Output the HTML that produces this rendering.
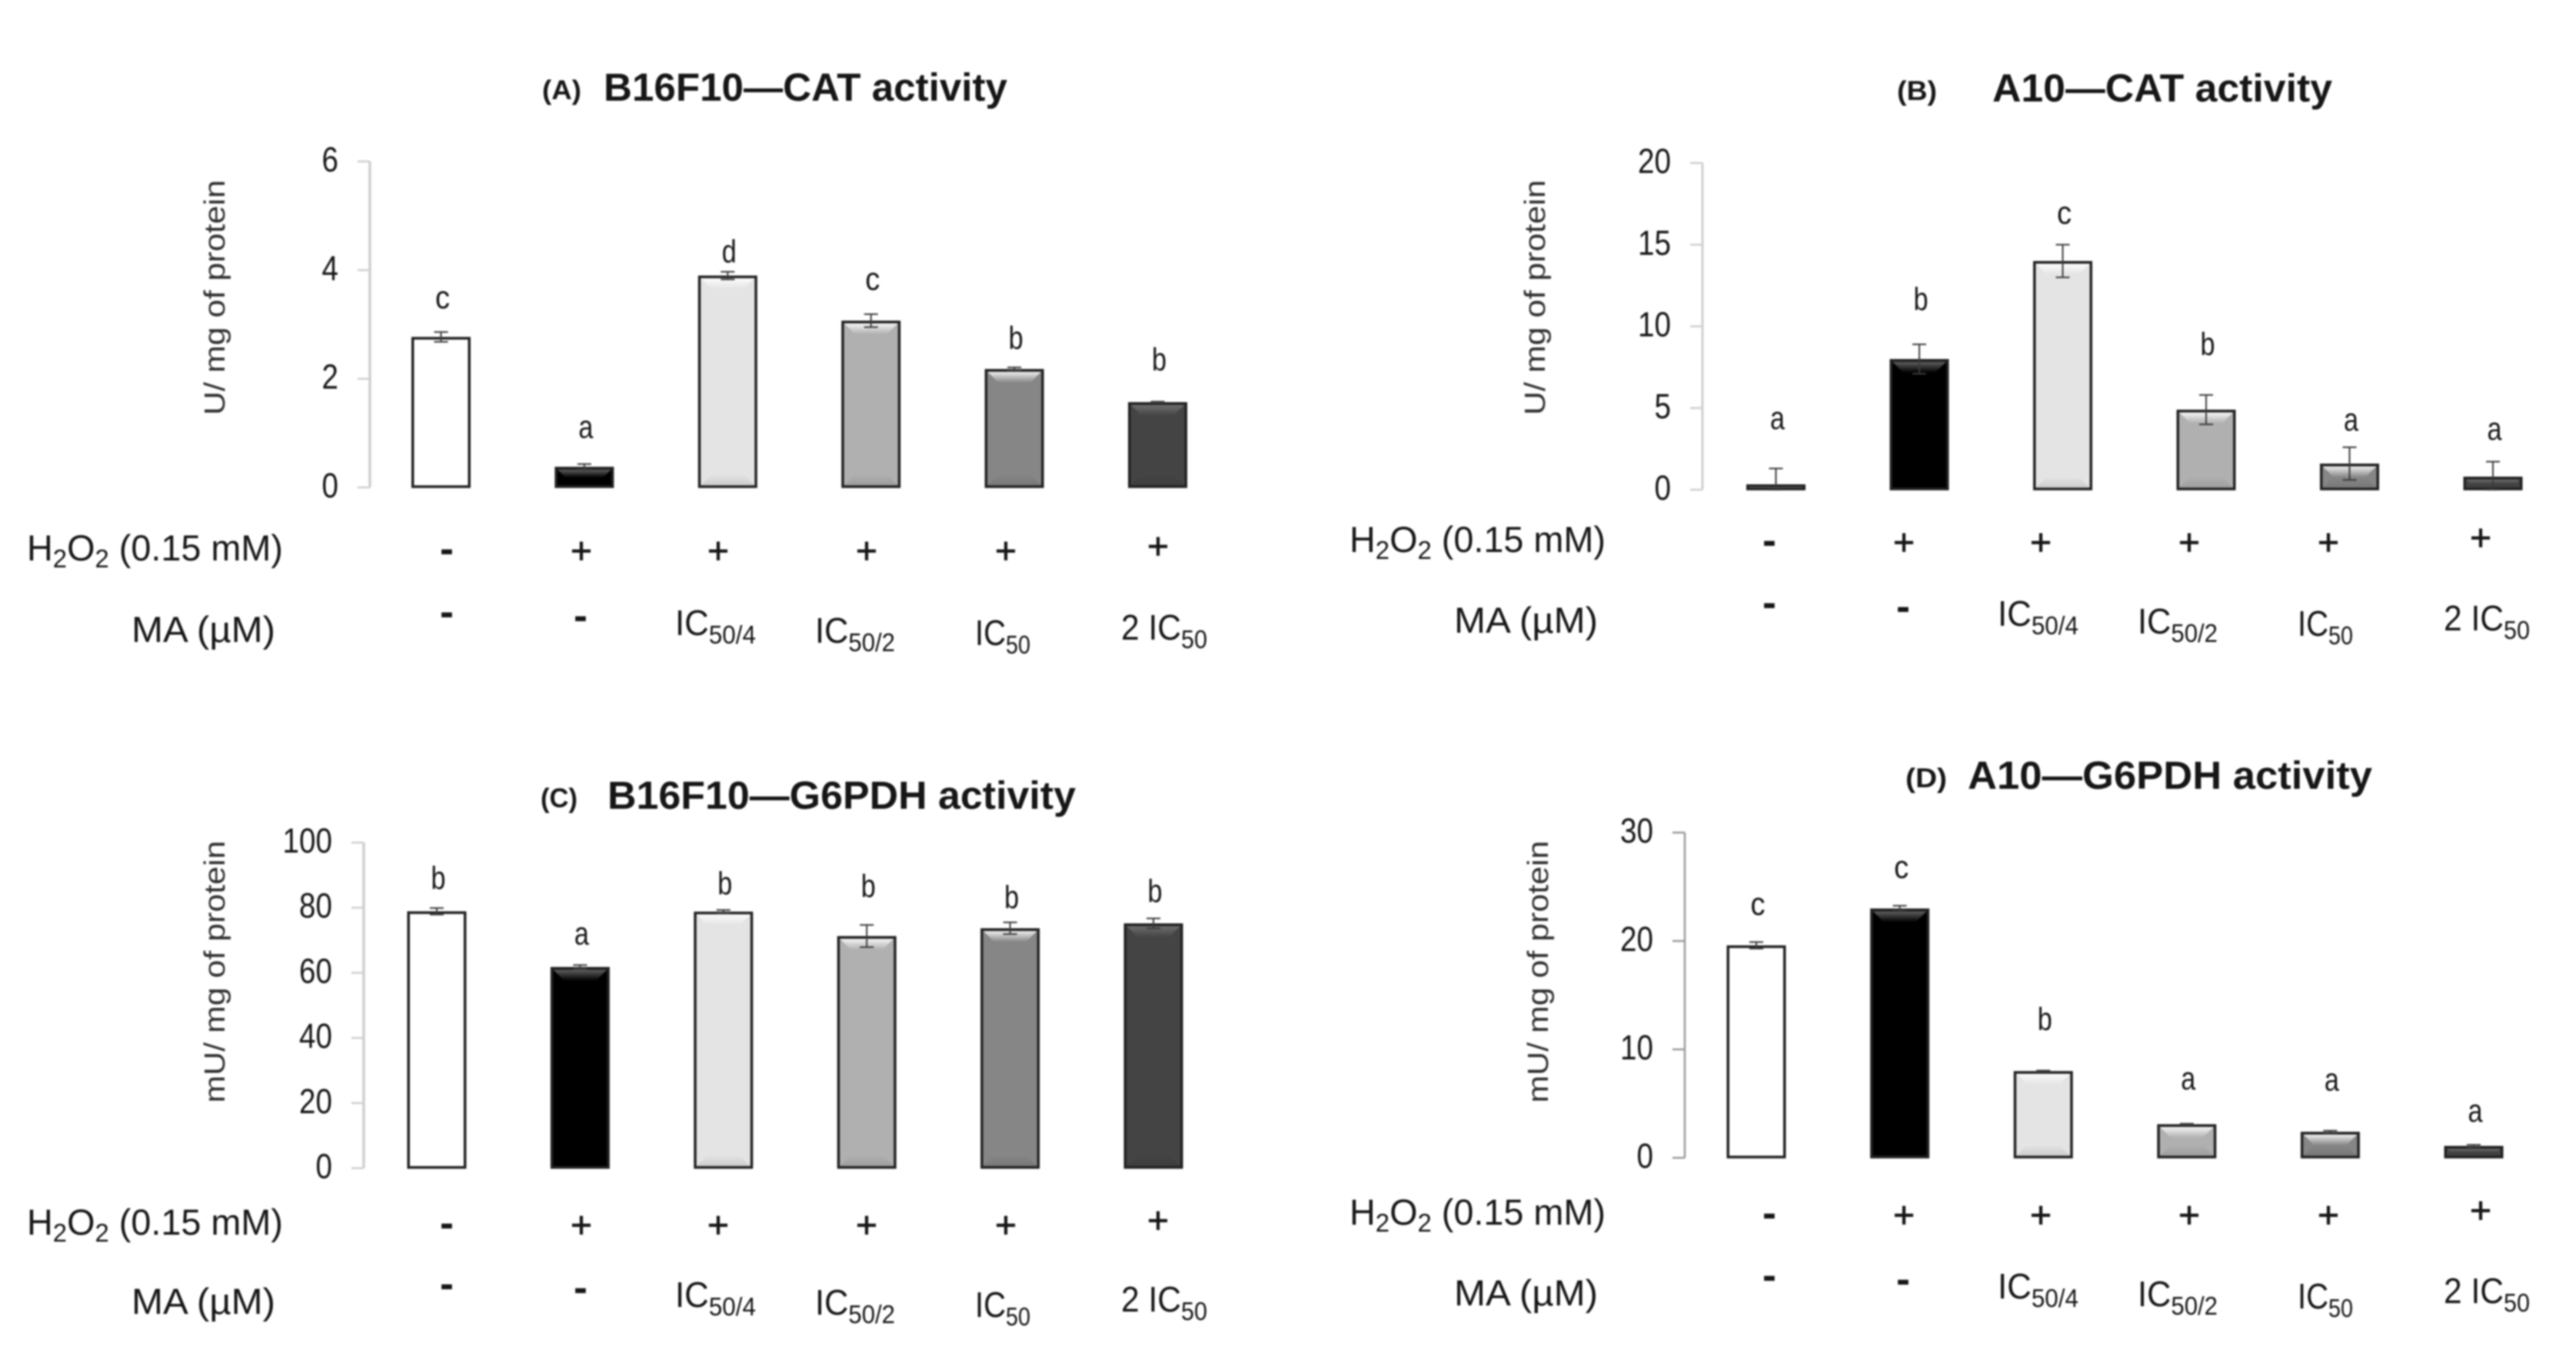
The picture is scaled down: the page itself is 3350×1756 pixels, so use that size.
<!DOCTYPE html>
<html lang="en">
<head>
<meta charset="utf-8">
<title>Enzyme activity bar charts</title>
<style>
html,body{margin:0;padding:0;background:#fff;width:3350px;height:1756px;overflow:hidden}
#figure{display:block;filter:blur(1.1px)}
text{font-family:"Liberation Sans",sans-serif;fill:#161616}
</style>
</head>
<body>
<svg id="figure" xmlns="http://www.w3.org/2000/svg" width="3350" height="1756" viewBox="0 0 3350 1756">
  <defs>
    <linearGradient id="bevel-top-light" x1="0" y1="0" x2="0" y2="1"><stop offset="0" stop-color="#fff" stop-opacity=".85"/><stop offset="1" stop-color="#fff" stop-opacity="0"/></linearGradient>
    <linearGradient id="bevel-top-dark" x1="0" y1="0" x2="0" y2="1"><stop offset="0" stop-color="#777" stop-opacity=".8"/><stop offset="1" stop-color="#777" stop-opacity="0"/></linearGradient>
    <linearGradient id="bevel-bottom" x1="0" y1="1" x2="0" y2="0"><stop offset="0" stop-color="#000" stop-opacity=".1"/><stop offset="1" stop-color="#000" stop-opacity="0"/></linearGradient>
  </defs>
</svg>
<script>
// Shared categories
const barFills = ['#ffffff', '#000000', '#e4e4e4', '#b0b0b0', '#868686', '#444444'];
const h2o2Signs = ['-', '+', '+', '+', '+', '+'];

// Panel A: B16F10 CAT
const valuesA = [2.77, 0.38, 3.90, 3.07, 2.18, 1.57];
const errorsA = [0.09, 0.05, 0.07, 0.12, 0.03, 0.01];
const lettersA = ['c', 'a', 'd', 'c', 'b', 'b'];
const letterGapsA = [0.68, 0.69, 0.45, 0.72, 0.58, 0.79];
const ticksA = [0, 2, 4, 6];

// Panel B: A10 CAT
const valuesB = [0.33, 8.0, 14.0, 4.9, 1.6, 0.8];
const errorsB = [0.97, 0.9, 1.0, 0.9, 1.0, 0.92];
const lettersB = ['a', 'b', 'c', 'b', 'a', 'a'];
const letterGapsB = [3.9, 3.7, 2.8, 4.05, 2.53, 2.77];
const ticksB = [0, 5, 10, 15, 20];

// Panel C: B16F10 G6PDH
const valuesC = [78.9, 61.8, 78.8, 71.3, 73.7, 75.2];
const errorsC = [1.0, 0.6, 0.5, 3.4, 1.8, 1.5];
const lettersC = ['b', 'a', 'b', 'b', 'b', 'b'];
const letterGapsC = [10.3, 9.5, 8.8, 15.5, 9.7, 10];
const ticksC = [0, 20, 40, 60, 80, 100];

// Panel D: A10 G6PDH
const valuesD = [19.6, 23.0, 8.0, 3.1, 2.4, 1.1];
const errorsD = [0.3, 0.25, 0.05, 0.05, 0.1, 0.1];
const lettersD = ['c', 'c', 'b', 'a', 'a', 'a'];
const letterGapsD = [3.6, 3.6, 4.85, 4.0, 4.6, 3.0];
const ticksD = [0, 10, 20, 30];

const NS = 'http://www.w3.org/2000/svg';
const figure = document.getElementById('figure');

function make(tag, parent, attrs) {
  const el = document.createElementNS(NS, tag);
  for (const k in attrs) el.setAttribute(k, attrs[k]);
  parent.appendChild(el);
  return el;
}

// parts: array of strings; a part wrapped as {sub:'2'} is drawn as a subscript
function rich(el, parts, subSize, drop) {
  parts.forEach(function (p) {
    const t = document.createElementNS(NS, 'tspan');
    if (typeof p === 'string') {
      t.textContent = p;
    } else {
      t.textContent = p.sub;
      t.setAttribute('font-size', subSize);
      t.setAttribute('dy', drop);
    }
    el.appendChild(t);
    if (typeof p !== 'string') {
      const back = document.createElementNS(NS, 'tspan');
      back.setAttribute('dy', -drop);
      back.textContent = '\u200b';
      el.appendChild(back);
    }
  });
}

function drawPanel(p) {
  const g = make('g', figure, {});
  
  
  const yOf = function (v) { return p.y0 - v / p.max * (p.y0 - p.yTop); };
  const barW = 73.5;

  // titles
  const tag = make('text', g, { x: p.tagX, y: p.titleY - 2, 'font-size': 35, 'font-weight': 'bold', textLength: p.tagW, lengthAdjust: 'spacingAndGlyphs' });
  
  
  tag.textContent = p.tag;
  const title = make('text', g, { x: p.titleX, y: p.titleY, 'font-size': 51, 'font-weight': 'bold', textLength: p.titleW, lengthAdjust: 'spacingAndGlyphs' });
  
  
  title.textContent = p.title;

  // y axis title
  const yt = make('text', g, { transform: 'translate(' + p.yTitleX + ' ' + p.yTitleY + ') rotate(-90)', 'font-size': 38, 'text-anchor': 'middle', textLength: p.yTitleW, lengthAdjust: 'spacingAndGlyphs', style: 'fill:#303030' });
  
  
  yt.textContent = p.yTitle;

  // axis
  const axis = make('line', g, { x1: p.axisX, x2: p.axisX, y1: p.yTop, y2: p.y0, stroke: p.axisColor, 'stroke-width': p.axisWidth });
  
  
  p.ticks.forEach(function (t) {
    const tk = make('line', g, { x1: p.axisX - 16, x2: p.axisX, y1: yOf(t), y2: yOf(t), stroke: p.axisColor, 'stroke-width': 2.5 });
    
    
    const lb = make('text', g, { x: p.axisX - 41, y: yOf(t) + 13, 'font-size': 45, 'text-anchor': 'end', textLength: String(t).length * 21.5, lengthAdjust: 'spacingAndGlyphs' });
    
    
    lb.textContent = t;
  });

  // bars
  p.values.forEach(function (v, i) {
    const cx = p.firstX + i * p.stepX;
    const top = yOf(v) + 1.75;
    const bottom = p.y0 - 1;
    const left = cx - barW / 2;
    const inner = bottom - top - 3.5;
    const bar = make('rect', g, { x: left, y: top, width: barW, height: Math.max(bottom - top, 1), fill: inner < 12 && i === 0 ? '#858585' : barFills[i], stroke: '#222', 'stroke-width': 3.5 });
    
    

    if (inner > 4) {
      const h = Math.min(14, inner / 2);
      const bevel = make('polygon', g, {
        points: [left + 2, top + 2, left + barW - 2, top + 2, left + barW - 2 - h, top + 2 + h, left + 2 + h, top + 2 + h].join(' '),
        fill: i === 0 ? 'none' : (i === 1 || i === 5 ? 'url(#bevel-top-dark)' : 'url(#bevel-top-light)')
      });
      
      
      if (i > 1) {
        const base = make('polygon', g, {
          points: [left + 2, bottom - 2, left + barW - 2, bottom - 2, left + barW - 2 - h, bottom - 2 - h, left + 2 + h, bottom - 2 - h].join(' '),
          fill: 'url(#bevel-bottom)'
        });
        
        
      }
    }

    // error bar
    const e = p.errors[i];
    const yHi = yOf(v + e);
    const yLo = Math.min(yOf(v - e), p.y0);
    const errColor = '#3c3c3c';
    const stem = make('line', g, { x1: cx, x2: cx, y1: yHi, y2: yLo, stroke: errColor, 'stroke-width': 2 });
    
    
    const capHi = make('line', g, { x1: cx - 9, x2: cx + 9, y1: yHi, y2: yHi, stroke: errColor, 'stroke-width': 2 });
    
    
    const capLo = make('line', g, { x1: cx - 9, x2: cx + 9, y1: yLo, y2: yLo, stroke: errColor, 'stroke-width': 2 });
    
    

    // significance letter
    const ch = p.letters[i];
    const drop = (ch === 'b' || ch === 'd') ? 15 : 11;
    const letter = make('text', g, { x: cx + 2, y: yOf(v + p.gaps[i]) + drop, 'font-size': 42, 'text-anchor': 'middle', textLength: 19, lengthAdjust: 'spacingAndGlyphs' });
    
    
    letter.textContent = ch;
  });

  drawTreatmentRows(g, p.rowDx, p.rowDy1, p.rowDy2);
}

function sign(g, ch, x, y) {
  const isPlus = ch === '+';
  const t = make('text', g, {
    x: x, y: y + (isPlus ? 15 : 14),
    'font-size': isPlus ? 48 : 54,
    'font-weight': isPlus ? 'normal' : 'bold',
    'text-anchor': 'middle',
    stroke: '#161616',
    'stroke-width': isPlus ? 0.8 : 0
  });
  
  
  t.textContent = ch;
}

function icLabel(g, parts, x, y, w) {
  const t = make('text', g, { x: x, y: y, 'font-size': 46, textLength: w, lengthAdjust: 'spacingAndGlyphs' });
  
  
  rich(t, parts, 33, 11);
}

function drawTreatmentRows(g, dx, dy1, dy2) {
  const h = make('text', g, { x: 35 + dx, y: 729 + dy1, 'font-size': 47, textLength: 333, lengthAdjust: 'spacingAndGlyphs' });
  
  
  rich(h, ['H', { sub: '2' }, 'O', { sub: '2' }, ' (0.15 mM)'], 33, 9);

  const m = make('text', g, { x: 171 + dx, y: 835 + dy2, 'font-size': 47, textLength: 187, lengthAdjust: 'spacingAndGlyphs' });
  
  
  m.textContent = 'MA (\u00b5M)';

  sign(g, h2o2Signs[0], 581 + dx, 718 + dy1);
  sign(g, h2o2Signs[1], 756 + dx, 718 + dy1);
  sign(g, h2o2Signs[2], 934 + dx, 718 + dy1);
  sign(g, h2o2Signs[3], 1127 + dx, 718 + dy1);
  sign(g, h2o2Signs[4], 1308 + dx, 718 + dy1);
  sign(g, h2o2Signs[5], 1506 + dx, 712 + dy1);

  sign(g, '-', 581 + dx, 800 + dy2);
  sign(g, '-', 755 + dx, 805 + dy2);
  icLabel(g, ['IC', { sub: '50/4' }], 878 + dx, 826 + dy2, 105);
  icLabel(g, ['IC', { sub: '50/2' }], 1060 + dx, 836 + dy2, 104);
  icLabel(g, ['IC', { sub: '50' }], 1268 + dx, 839 + dy2, 72);
  icLabel(g, ['2 IC', { sub: '50' }], 1458 + dx, 832 + dy2, 112);
}

drawPanel({
  id: 'a', tag: '(A)', tagX: 705, tagW: 51, title: 'B16F10\u2014CAT activity', titleX: 785, titleW: 525, titleY: 131,
  yTitle: 'U/ mg of protein', yTitleX: 292, yTitleY: 387, yTitleW: 306,
  axisX: 481, y0: 634, yTop: 210, max: 6, axisColor: '#cfcfcf', axisWidth: 3.5,
  firstX: 573.5, stepX: 186.4, values: valuesA, errors: errorsA, letters: lettersA, gaps: letterGapsA, ticks: ticksA,
  rowDx: 0, rowDy1: 0, rowDy2: 0
});
drawPanel({
  id: 'b', tag: '(B)', tagX: 2467, tagW: 52, title: 'A10\u2014CAT activity', titleX: 2591, titleW: 442, titleY: 132,
  yTitle: 'U/ mg of protein', yTitleX: 2009, yTitleY: 387, yTitleW: 306,
  axisX: 2214, y0: 637, yTop: 212, max: 20, axisColor: '#cfcfcf', axisWidth: 3,
  firstX: 2309.5, stepX: 186.5, values: valuesB, errors: errorsB, letters: lettersB, gaps: letterGapsB, ticks: ticksB,
  rowDx: 1720, rowDy1: -11, rowDy2: -12
});
drawPanel({
  id: 'c', tag: '(C)', tagX: 703, tagW: 48, title: 'B16F10\u2014G6PDH activity', titleX: 790, titleW: 609, titleY: 1052,
  yTitle: 'mU/ mg of protein', yTitleX: 292, yTitleY: 1264, yTitleW: 341,
  axisX: 473, y0: 1519.5, yTop: 1096, max: 100, axisColor: '#cfcfcf', axisWidth: 3.5,
  firstX: 568, stepX: 186.4, values: valuesC, errors: errorsC, letters: lettersC, gaps: letterGapsC, ticks: ticksC,
  rowDx: 0, rowDy1: 877, rowDy2: 874
});
drawPanel({
  id: 'd', tag: '(D)', tagX: 2478, tagW: 54, title: 'A10\u2014G6PDH activity', titleX: 2559, titleW: 526, titleY: 1026,
  yTitle: 'mU/ mg of protein', yTitleX: 2013, yTitleY: 1264, yTitleW: 341,
  axisX: 2191, y0: 1506, yTop: 1083, max: 30, axisColor: '#9a9a9a', axisWidth: 2.5,
  firstX: 2284, stepX: 186.6, values: valuesD, errors: errorsD, letters: lettersD, gaps: letterGapsD, ticks: ticksD,
  rowDx: 1720, rowDy1: 864, rowDy2: 863
});
</script>
</body>
</html>
